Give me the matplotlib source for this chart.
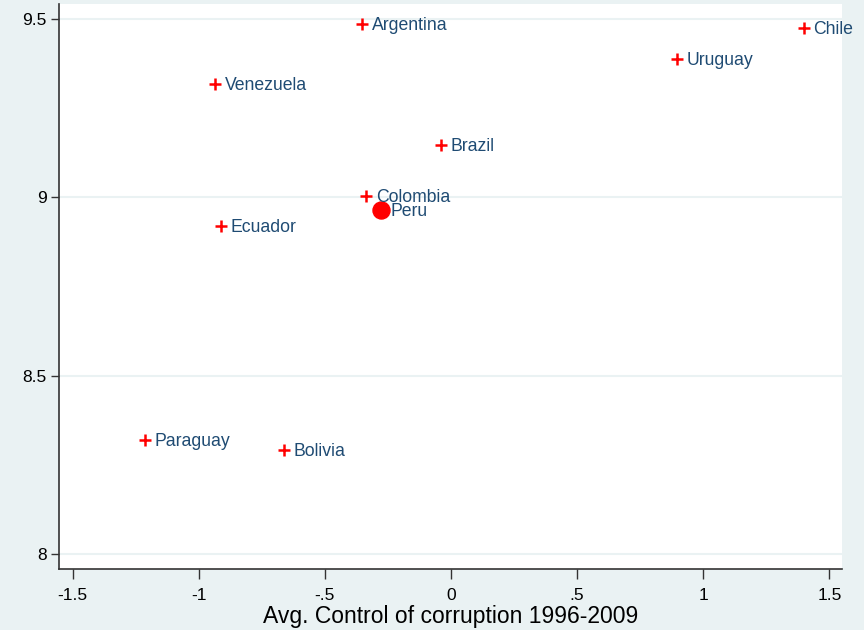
import matplotlib
matplotlib.use("Agg")
import matplotlib.pyplot as plt

# Control of corruption vs. log outcome, South America
countries = ["Argentina", "Venezuela", "Uruguay", "Chile", "Brazil",
             "Colombia", "Ecuador", "Paraguay", "Bolivia"]
corruption = [-0.353, -0.935, 0.896, 1.399, -0.040, -0.337, -0.912, -1.213, -0.662]
outcome = [9.486, 9.318, 9.388, 9.475, 9.147, 9.003, 8.920, 8.321, 8.293]

peru_x = [-0.277]
peru_y = [8.965]

xticks = [-1.5, -1, -0.5, 0, 0.5, 1, 1.5]
xticklabels = ["-1.5", "-1", "-.5", "0", ".5", "1", "1.5"]
yticks = [8, 8.5, 9, 9.5]
yticklabels = ["8", "8.5", "9", "9.5"]

bg = "#eaf2f3"
navy = "#1f4b73"

plt.rcParams['font.family'] = ['Liberation Sans', 'DejaVu Sans']

fig = plt.figure(figsize=(8.64, 6.3), dpi=100, facecolor=bg)
ax = fig.add_axes([0.0683, 0.0968, 0.9062, 0.8969])
ax.set_facecolor("white")

ax.scatter(corruption, outcome, marker="+", s=80, color="red", linewidths=1.8, zorder=3)
for name, x, y in zip(countries, corruption, outcome):
    ax.annotate(name, (x, y), xytext=(7, -1), textcoords="offset points",
                ha="left", va="center", fontsize=12.7, color=navy,
                annotation_clip=False, zorder=4)

ax.scatter(peru_x, peru_y, marker="o", s=150, color="red", zorder=3)
ax.annotate("Peru", (peru_x[0], peru_y[0]), xytext=(7, -1), textcoords="offset points",
            ha="left", va="center", fontsize=12.7, color=navy, zorder=4)

ax.set_xlim(-1.554, 1.550)
ax.set_ylim(7.959, 9.542)
ax.set_xticks(xticks)
ax.set_xticklabels(xticklabels)
ax.set_yticks(yticks)
ax.set_yticklabels(yticklabels)

ax.grid(axis="y", color=bg, linewidth=1.5, zorder=0)
ax.grid(axis="x", visible=False)
ax.set_axisbelow(True)

for side in ["top", "right"]:
    ax.spines[side].set_visible(False)
for side in ["left", "bottom"]:
    ax.spines[side].set_color("#333333")
    ax.spines[side].set_linewidth(1.2)

ax.tick_params(axis="y", length=6, width=1, color="#333333", labelsize=12.5, pad=3)
ax.tick_params(axis="x", length=7, width=1, color="#333333", labelsize=12.5, pad=7)

ax.set_xlabel("Avg. Control of corruption 1996-2009", fontsize=16.5, labelpad=1)

fig.savefig("out.png", dpi=100, facecolor=bg)
